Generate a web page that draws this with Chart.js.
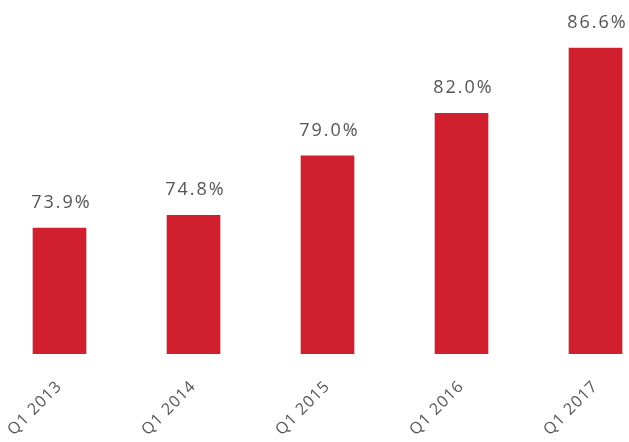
<!DOCTYPE html>
<html>
<head>
<meta charset="utf-8">
<script src="https://cdn.jsdelivr.net/npm/chart.js@4"></script>
<style>
  html, body { margin: 0; padding: 0; background: #fff; }
  #wrap { width: 629px; height: 442px; }
</style>
</head>
<body>
<div id="wrap"><canvas id="rateChart"></canvas></div>
<script>
const quarters = ['Q1 2013', 'Q1 2014', 'Q1 2015', 'Q1 2016', 'Q1 2017'];
const rates = [73.9, 74.8, 79.0, 82.0, 86.6];
const barColor = '#d0202e';
const textColor = '#555555';

// wider letters for the tick labels
const spacing = {
  id: 'spacing',
  beforeDraw(chart) { chart.ctx.letterSpacing = '1px'; }
};

// labels above the bars
const valueLabels = {
  id: 'valueLabels',
  afterDatasetsDraw(chart) {
    const ctx = chart.ctx;
    const meta = chart.getDatasetMeta(0);
    ctx.save();
    ctx.font = '18px "Open Sans"';
    ctx.fillStyle = textColor;
    ctx.textAlign = 'center';
    ctx.textBaseline = 'alphabetic';
    ctx.letterSpacing = '2px';
    meta.data.forEach((bar, i) => {
      ctx.fillText(rates[i].toFixed(1) + '%', bar.x + 2, bar.y - 20);
    });
    ctx.restore();
  }
};

const rateCtx = document.getElementById('rateChart').getContext('2d');
new Chart(rateCtx, {
  type: 'bar',
  data: {
    labels: quarters,
    datasets: [{
      data: rates,
      backgroundColor: barColor,
      barThickness: 53,
      // only cut the bars at the bottom edge
      clip: { left: false, right: false, top: false, bottom: 0 }
    }]
  },
  options: {
    responsive: true,
    maintainAspectRatio: false,
    animation: false,
    layout: { padding: { left: 59.5, right: 33.5, top: 0, bottom: 0 } },
    plugins: {
      legend: { display: false },
      tooltip: { enabled: false }
    },
    scales: {
      x: {
        offset: false,
        grid: { display: false },
        border: { display: false },
        ticks: {
          color: textColor,
          font: { family: 'Open Sans', size: 16 },
          minRotation: 45,
          maxRotation: 45,
          padding: 15
        },
        afterFit(axis) { axis.height = 88; }
      },
      y: {
        display: false,
        min: 65,
        max: 90
      }
    }
  },
  plugins: [spacing, valueLabels]
});
</script>
</body>
</html>
